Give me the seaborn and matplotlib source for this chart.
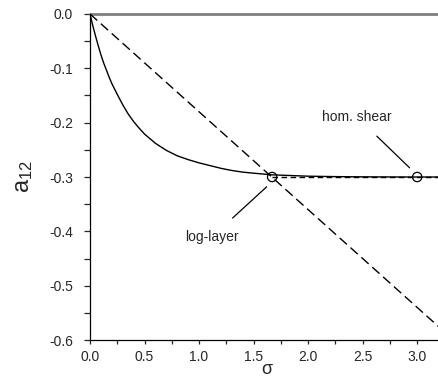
import numpy as np
import pandas as pd
import matplotlib
matplotlib.use("Agg")
import matplotlib.pyplot as plt
from matplotlib.ticker import MultipleLocator
import seaborn as sns

# solid model curve a12(sigma)
sigma_curve = [0.0, 0.025, 0.05, 0.075, 0.1, 0.125, 0.15, 0.175, 0.2, 0.25, 0.3,
               0.35, 0.4, 0.45, 0.5, 0.6, 0.7, 0.8, 0.9, 1.0, 1.1, 1.2, 1.3, 1.4,
               1.5, 1.67, 1.8, 2.0, 2.25, 2.5, 2.75, 3.0, 3.2]
a12_curve = [0.0, -0.021, -0.040, -0.058, -0.075, -0.090, -0.103, -0.116, -0.128,
             -0.148, -0.167, -0.184, -0.198, -0.210, -0.221, -0.238, -0.251,
             -0.261, -0.268, -0.274, -0.279, -0.284, -0.288, -0.291, -0.293,
             -0.296, -0.297, -0.2985, -0.2993, -0.2997, -0.2999, -0.300, -0.300]

# dashed linear relation and the dashed plateau
sigma_lin = [0.0, 3.2]
a12_lin = [0.0, -0.576]
sigma_plateau = [1.67, 3.2]
a12_plateau = [-0.3, -0.3]

# zero reference line
sigma_zero = [0.0, 3.2]
a12_zero = [0.0, 0.0]

# marked states
point_names = ["log-layer", "hom. shear"]
point_sigma = [1.67, 3.0]
point_a12 = [-0.3, -0.3]

sns.set_style("ticks")
plt.rcParams["font.family"] = ["Liberation Sans", "DejaVu Sans"]
plt.rcParams["mathtext.default"] = "regular"

fig = plt.figure(figsize=(4.39, 3.77), dpi=100)
ax = fig.add_axes([0.205, 0.098, 0.795, 0.865])

sns.lineplot(x=sigma_zero, y=a12_zero, ax=ax, color="#7f7f7f", lw=2.0, clip_on=False)
sns.lineplot(x=sigma_curve, y=a12_curve, ax=ax, color="black", lw=1.0)
sns.lineplot(x=sigma_lin, y=a12_lin, ax=ax, color="black", lw=1.0)
ax.lines[-1].set_dashes((7, 3.5))
sns.lineplot(x=sigma_plateau, y=a12_plateau, ax=ax, color="black", lw=1.0)
ax.lines[-1].set_dashes((4, 2.5))

pts = pd.DataFrame({"sigma": point_sigma, "a12": point_a12, "name": point_names})
sns.scatterplot(data=pts, x="sigma", y="a12", ax=ax, s=45, marker="o",
                facecolor="none", edgecolor="black", linewidth=0.9, zorder=5)

ax.annotate("hom. shear", xy=(2.93, -0.283), xytext=(2.45, -0.19),
            fontsize=10, ha="center", va="center",
            arrowprops=dict(arrowstyle="-", color="black", lw=0.9,
                            shrinkA=9, shrinkB=0))
ax.annotate("log-layer", xy=(1.62, -0.318), xytext=(1.12, -0.41),
            fontsize=10, ha="center", va="center",
            arrowprops=dict(arrowstyle="-", color="black", lw=0.9,
                            shrinkA=9, shrinkB=0))

ax.set_xlim(0, 3.2)
ax.set_ylim(-0.6, 0.0)
ax.xaxis.set_major_locator(MultipleLocator(0.5))
ax.xaxis.set_minor_locator(MultipleLocator(0.25))
ax.yaxis.set_major_locator(MultipleLocator(0.1))
ax.yaxis.set_minor_locator(MultipleLocator(0.05))
ax.xaxis.set_major_formatter(plt.FuncFormatter(lambda v, p: f"{v:.1f}"))
ax.yaxis.set_major_formatter(plt.FuncFormatter(lambda v, p: f"{v:.1f}".replace("-0.0", "0.0")))

ax.tick_params(axis="y", which="both", direction="out", length=4.2, width=0.9,
               pad=8.0, labelsize=10)
ax.tick_params(axis="x", which="both", direction="out", length=3.2, width=0.9,
               pad=4.0, labelsize=10)

for side in ["top", "right"]:
    ax.spines[side].set_visible(False)
for side in ["left", "bottom"]:
    ax.spines[side].set_linewidth(0.9)
    ax.spines[side].set_color("black")

ax.set_xlabel("σ", fontsize=13)
ax.xaxis.label.set_va("center")
ax.xaxis.set_label_coords(0.506, -0.090)
ax.set_ylabel(r"a$_{12}$", fontsize=17, labelpad=10)

fig.savefig("out.png", dpi=100)
